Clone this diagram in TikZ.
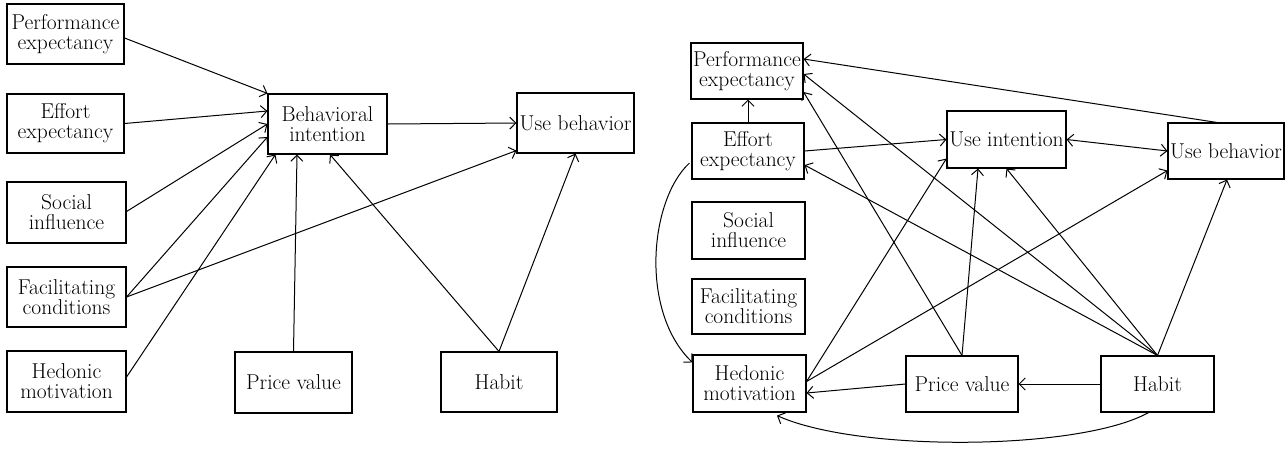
\documentclass[tikz,border=0pt]{standalone}
\usetikzlibrary{arrows.meta,calc}
\begin{document}
\begin{tikzpicture}[x=1pt,y=-1pt,
  box/.style={draw, line width=1.1pt, align=center, inner sep=0pt,
    font=\fontsize{21.5}{20}\selectfont},
  conn/.style={line width=1pt, -{Straight Barb[length=6pt,width=12pt]}},
  dconn/.style={line width=1pt, {Straight Barb[length=6pt,width=12pt]}-{Straight Barb[length=6pt,width=12pt]}}]
\useasboundingbox (0,0) rectangle (1287,451);
% ---------- left model ----------
\node[box, minimum width=117pt, minimum height=60pt] (lpe) at (65.5,34) {Performance\\expectancy};
\node[box, minimum width=117pt, minimum height=59pt] (lee) at (65.5,123.5) {Effort\\expectancy};
\node[box, minimum width=119pt, minimum height=61pt] (lsi) at (66.5,212.5) {Social\\influence};
\node[box, minimum width=119pt, minimum height=60pt] (lfc) at (66.5,297) {Facilitating\\conditions};
\node[box, minimum width=119pt, minimum height=61pt] (lhm) at (66.5,381.5) {Hedonic\\motivation};
\node[box, minimum width=119pt, minimum height=60pt] (lbi) at (327.5,124) {Behavioral\\intention};
\node[box, minimum width=117pt, minimum height=60pt] (lub) at (575.5,123) {Use behavior};
\node[box, minimum width=117pt, minimum height=61pt] (lpv) at (293.5,382.5) {Price value};
\node[box, minimum width=116pt, minimum height=60pt] (lhb) at (499,382) {Habit};

\draw[conn] ($(lpe.east)+(0,4)$) -- (lbi.north west);
\draw[conn] (lee.east) -- ($(lbi.west)+(0,-13)$);
\draw[conn] ($(lsi.east)+(0,-1)$) -- (lbi.west);
\draw[conn] (lfc.east) -- ($(lbi.west)+(0,13)$);
\draw[conn] ($(lhm.east)+(0,-4.5)$) -- ($(lbi.south west)+(8,0)$);
\draw[conn] (lpv.north) -- ($(lbi.south)+(-30.5,0)$);
\draw[conn] (lhb.north) -- ($(lbi.south)+(2.5,0)$);
\draw[conn] (lhb.north) -- (lub.south);
\draw[conn] (lfc.east) -- ($(lub.south west)+(0,-3)$);
\draw[conn] (lbi.east) -- (lub.west);

% ---------- right model ----------
\node[box, minimum width=112pt, minimum height=56pt] (rpe) at (747,71) {Performance\\expectancy};
\node[box, minimum width=112pt, minimum height=56pt] (ree) at (748,151) {Effort\\expectancy};
\node[box, minimum width=113pt, minimum height=57pt] (rsi) at (748.5,230.5) {Social\\influence};
\node[box, minimum width=113pt, minimum height=55pt] (rfc) at (748.5,306.5) {Facilitating\\conditions};
\node[box, minimum width=113pt, minimum height=57pt] (rhm) at (749.5,383.5) {Hedonic\\motivation};
\node[box, minimum width=112pt, minimum height=56pt] (rpv) at (962,384) {Price value};
\node[box, minimum width=113pt, minimum height=56pt] (rhb) at (1157.5,384) {Habit};
\node[box, minimum width=119pt, minimum height=57pt] (rui) at (1006.5,139.5) {Use intention};
\node[box, minimum width=116pt, minimum height=56pt] (rub) at (1226,151) {Use behavior};

\draw[conn] (ree.north) -- (ree.north |- rpe.south);
\draw[conn] (ree.east) -- (rui.west);
\draw[dconn] (rui.east) -- (rub.west);
\draw[conn] ($(rub.north)+(-9,0)$) -- ($(rpe.east)+(0,-12)$);
\draw[conn] (rhb.north) -- ($(rpe.east)+(0,3)$);
\draw[conn] (rhb.north) -- ($(ree.east)+(0,14)$);
\draw[conn] (rhb.north) -- (rui.south);
\draw[conn] (rhb.north) -- ($(rub.south)+(1,0)$);
\draw[conn] (rpv.north) -- ($(rpe.east)+(0,21)$);
\draw[conn] (rpv.north) -- ($(rui.south)+(-28.5,0)$);
\draw[conn] ($(rhm.east)+(0,-2)$) -- ($(rui.south west)+(0,-10)$);
\draw[conn] ($(rhm.east)+(0,-2)$) -- ($(rub.south west)+(0,-9)$);
\draw[conn] (rhb.west) -- (rpv.east);
\draw[conn] (rpv.west) -- ($(rhm.east)+(0,9.5)$);
\draw[conn] ($(ree.west)+(-2,12)$) .. controls ($(ree.west)+(-42,49)$) and ($(rhm.north west)+(-53,-43)$) .. ($(rhm.north west)+(0,8)$);
\draw[conn] ($(rhb.south)+(-9,0)$) .. controls ($(rhb.south)+(-77,38)$) and ($(rhm.south)+(110,40)$) .. ($(rhm.south)+(27.5,3)$);
\end{tikzpicture}
\end{document}
